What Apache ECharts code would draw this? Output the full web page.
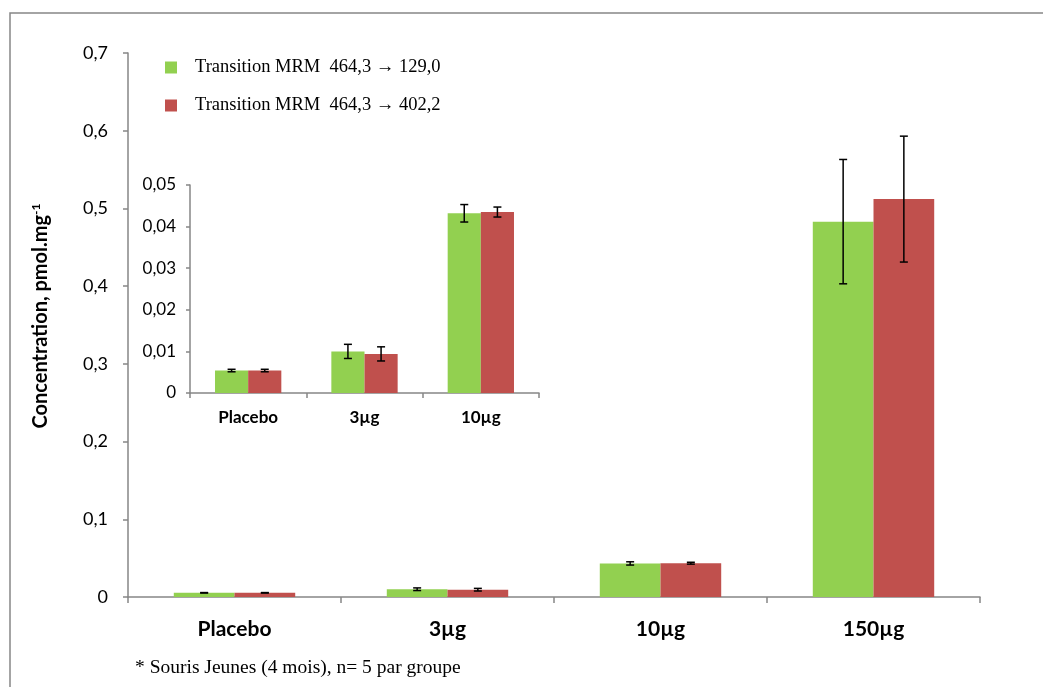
<!DOCTYPE html>
<html>
<head>
<meta charset="utf-8">
<script src="https://cdn.jsdelivr.net/npm/echarts@6/dist/echarts.min.js"></script>
<style>
html,body{margin:0;padding:0;background:#fff;}
#chart{width:1043px;height:687px;}
</style>
</head>
<body>
<div id="chart"></div>
<script>
const categories = ['Placebo', '3µg', '10µg', '150µg'];
const seriesNames = ['Transition MRM  464,3 \u2192 129,0', 'Transition MRM  464,3 \u2192 402,2'];
const greenValues = [0.0054, 0.0100, 0.0432, 0.483];
const greenErrors = [0.0003, 0.0017, 0.0021, 0.080];
const redValues = [0.0054, 0.0094, 0.0435, 0.512];
const redErrors = [0.0003, 0.0017, 0.0012, 0.081];
const mainTicks = { min: 0, max: 0.7, interval: 0.1 };
const insetTicks = { min: 0, max: 0.05, interval: 0.01 };
const insetCount = 3;
const yTitle = 'Concentration, pmol.mg';
const yTitleSup = '-1';
const footnote = '* Souris Jeunes (4 mois), n= 5 par groupe';

const GREEN = '#92D050', RED = '#C0504D', AXIS = '#868686';
const SANS = 'Lato, "Open Sans", sans-serif';
const SERIF = '"Liberation Serif", "DejaVu Serif", serif';
const CAT_GAP = 0.43;

function errRender(sign, capHalf) {
  return function (params, api) {
    const x = api.value(0), v = api.value(1), e = api.value(2);
    const band = api.size([1, 0])[0];
    const off = sign * band * (1 - CAT_GAP) / 4;
    const top = api.coord([x, v + e]);
    const bot = api.coord([x, v - e]);
    const cx = top[0] + off;
    const st = { stroke: '#000', lineWidth: 1.5 };
    return {
      type: 'group',
      children: [
        { type: 'line', shape: { x1: cx, y1: top[1], x2: cx, y2: bot[1] }, style: st },
        { type: 'line', shape: { x1: cx - capHalf, y1: top[1], x2: cx + capHalf, y2: top[1] }, style: st },
        { type: 'line', shape: { x1: cx - capHalf, y1: bot[1], x2: cx + capHalf, y2: bot[1] }, style: st }
      ]
    };
  };
}

function errData(vals, errs, n) {
  return vals.slice(0, n).map((v, i) => [i, v, errs[i]]);
}

const chart = echarts.init(document.getElementById('chart'), null, { renderer: 'canvas' });

const yLabelFmt = (d) => (v) => v === 0 ? '0' : v.toFixed(d).replace('.', ',');

const option = {
  backgroundColor: '#fff',
  animation: false,
  legend: {
    orient: 'vertical',
    left: 165,
    top: 58,
    padding: 0,
    itemWidth: 12,
    itemHeight: 12,
    itemGap: 19,
    icon: 'rect',
    data: seriesNames,
    textStyle: { fontFamily: SERIF, fontSize: 18.5, color: '#000', padding: [0, 0, 0, 13] },
    selectedMode: false
  },
  grid: [
    { left: 128, top: 53, right: 63, bottom: 90, containLabel: false },
    { left: 190, top: 185, right: 504, bottom: 294, containLabel: false }
  ],
  xAxis: [
    {
      type: 'category', gridIndex: 0, data: categories,
      axisLine: { lineStyle: { color: AXIS, width: 1.5 } },
      axisTick: { show: true, length: 6, lineStyle: { color: AXIS, width: 1.5 } },
      axisLabel: { fontFamily: SANS, fontWeight: 'bold', fontSize: 21, color: '#000', margin: 22 }
    },
    {
      type: 'category', gridIndex: 1, data: categories.slice(0, insetCount),
      axisLine: { lineStyle: { color: AXIS, width: 1.5 } },
      axisTick: { show: true, length: 5, lineStyle: { color: AXIS, width: 1.5 } },
      axisLabel: { fontFamily: SANS, fontWeight: 'bold', fontSize: 17, color: '#000', margin: 16 }
    }
  ],
  yAxis: [
    {
      type: 'value', gridIndex: 0, min: mainTicks.min, max: mainTicks.max, interval: mainTicks.interval,
      splitLine: { show: false },
      axisLine: { show: true, lineStyle: { color: AXIS, width: 1.5 } },
      axisTick: { show: true, length: 5, lineStyle: { color: AXIS, width: 1.5 } },
      axisLabel: { fontFamily: SANS, fontSize: 18, color: '#000', margin: 20, formatter: yLabelFmt(1) }
    },
    {
      type: 'value', gridIndex: 1, min: insetTicks.min, max: insetTicks.max, interval: insetTicks.interval,
      splitLine: { show: false },
      axisLine: { show: true, lineStyle: { color: AXIS, width: 1.5 } },
      axisTick: { show: true, length: 4, lineStyle: { color: AXIS, width: 1.5 } },
      axisLabel: { fontFamily: SANS, fontSize: 17, color: '#000', margin: 14, formatter: yLabelFmt(2) }
    }
  ],
  series: [
    { name: seriesNames[0], type: 'bar', xAxisIndex: 0, yAxisIndex: 0, data: greenValues,
      itemStyle: { color: GREEN }, barGap: '0%', barCategoryGap: (CAT_GAP * 100) + '%' },
    { name: seriesNames[1], type: 'bar', xAxisIndex: 0, yAxisIndex: 0, data: redValues,
      itemStyle: { color: RED }, barGap: '0%', barCategoryGap: (CAT_GAP * 100) + '%' },
    { name: 'errG', type: 'custom', xAxisIndex: 0, yAxisIndex: 0, z: 10,
      renderItem: errRender(-1, 4), data: errData(greenValues, greenErrors, categories.length) },
    { name: 'errR', type: 'custom', xAxisIndex: 0, yAxisIndex: 0, z: 10,
      renderItem: errRender(1, 4), data: errData(redValues, redErrors, categories.length) },
    { name: 'insetG', type: 'bar', xAxisIndex: 1, yAxisIndex: 1, data: greenValues.slice(0, insetCount),
      itemStyle: { color: GREEN }, barGap: '0%', barCategoryGap: (CAT_GAP * 100) + '%' },
    { name: 'insetR', type: 'bar', xAxisIndex: 1, yAxisIndex: 1, data: redValues.slice(0, insetCount),
      itemStyle: { color: RED }, barGap: '0%', barCategoryGap: (CAT_GAP * 100) + '%' },
    { name: 'insetErrG', type: 'custom', xAxisIndex: 1, yAxisIndex: 1, z: 10,
      renderItem: errRender(-1, 4), data: errData(greenValues, greenErrors, insetCount) },
    { name: 'insetErrR', type: 'custom', xAxisIndex: 1, yAxisIndex: 1, z: 10,
      renderItem: errRender(1, 4), data: errData(redValues, redErrors, insetCount) }
  ],
  graphic: [
    { type: 'rect', shape: { x: 10, y: 13, width: 1200, height: 900 },
      style: { fill: 'none', stroke: AXIS, lineWidth: 1.5 }, silent: true },
    { type: 'text', x: 41, y: 316, rotation: Math.PI / 2,
      style: {
        text: '{a|' + yTitle + '}{s|' + yTitleSup + '}',
        align: 'center', verticalAlign: 'middle',
        rich: {
          a: { fontFamily: SANS, fontWeight: 'bold', fontSize: 20, fill: '#000' },
          s: { fontFamily: SANS, fontWeight: 'bold', fontSize: 12, fill: '#000', padding: [0, 0, 10, 0] }
        }
      } },
    { type: 'text', x: 135, y: 668,
      style: { text: footnote, font: '19.5px ' + SERIF, fill: '#000', verticalAlign: 'middle' } }
  ]
};
chart.setOption(option);
</script>
</body>
</html>
